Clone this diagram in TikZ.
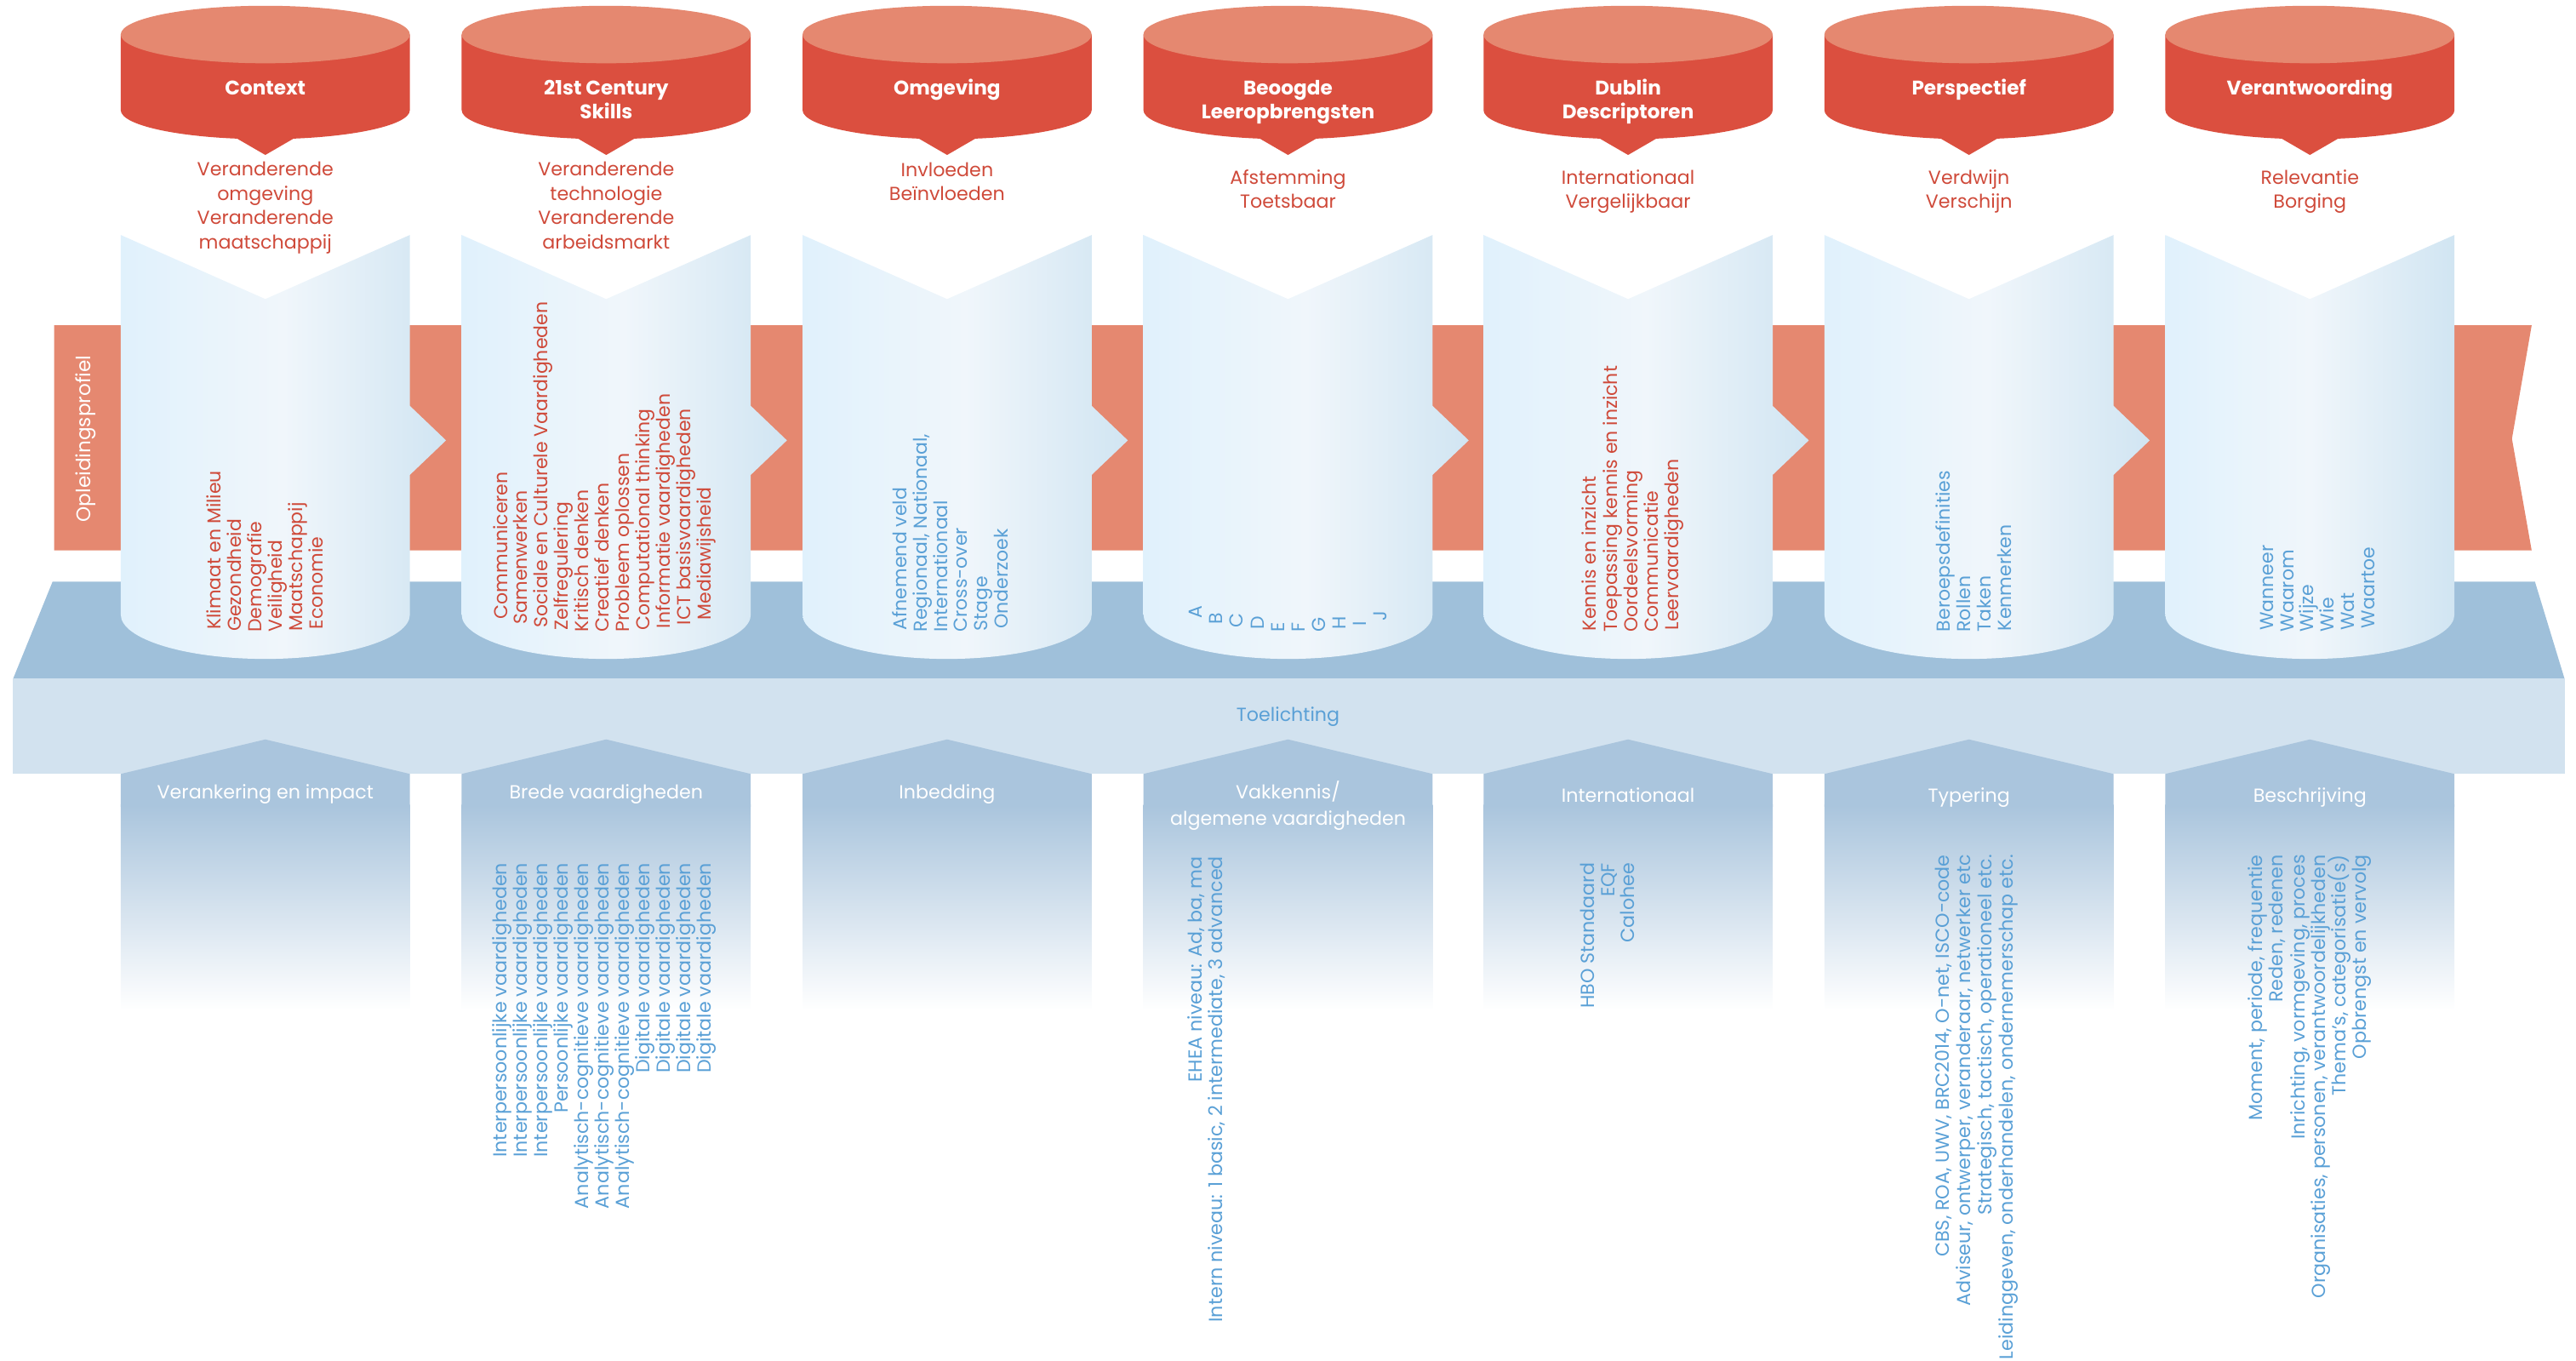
\documentclass[tikz,border=0pt]{standalone}
\usepackage{fontspec}
\setmainfont{Poppins}
\definecolor{kolomcolor0001}{RGB}{229,136,112}
\definecolor{kolomcolor0002}{RGB}{219,79,63}
\definecolor{kolomcolor0003}{RGB}{207,74,58}
\definecolor{kolomcolor0004}{RGB}{90,160,214}
\definecolor{kolomcolor0005}{RGB}{159,192,218}
\definecolor{kolomcolor0006}{RGB}{210,226,239}
\definecolor{kolomcolor0007}{RGB}{170,197,221}
\definecolor{kolomcolor0008}{RGB}{224,241,252}
\definecolor{kolomcolor0009}{RGB}{240,246,251}
\definecolor{kolomcolor0010}{RGB}{209,229,242}
\begin{document}
\begin{tikzpicture}[x=1pt,y=1pt,yscale=-1
            ,kstyle0/.style={fill=kolomcolor0001}
            ,kstyle1/.style={fill=kolomcolor0002}
            ,kstyle2/.style={left color=kolomcolor0008,right color=kolomcolor0010,middle color=kolomcolor0009}
            ,kstyle3/.style={fill=kolomcolor0005}
            ,kstyle4/.style={fill=kolomcolor0006}
            ,kstyle5/.style={fill=kolomcolor0007}
            ,kstyle6/.style={top color=kolomcolor0007,bottom color=white}
            ,tstyle0/.style={anchor=base,inner sep=0pt,color=white,font=\fontsize{12}{14}\selectfont\bfseries}
            ,tstyle1/.style={anchor=base,inner sep=0pt,color=kolomcolor0003,font=\fontsize{11.5}{14}\selectfont}
            ,tstyle2/.style={anchor=base,inner sep=0pt,color=white,font=\fontsize{11.5}{14}\selectfont}
            ,tstyle3/.style={rotate=90,anchor=mid west,inner sep=0pt,color=kolomcolor0003,font=\fontsize{11.4}{12}\selectfont}
            ,tstyle4/.style={rotate=90,anchor=mid west,inner sep=0pt,color=kolomcolor0004,font=\fontsize{11.4}{12}\selectfont}
            ,tstyle5/.style={rotate=90,anchor=mid east,inner sep=0pt,color=kolomcolor0004,font=\fontsize{11.5}{12}\selectfont}
        ]
        \useasboundingbox (0,0) rectangle (1568,828);
        \fill[kstyle0] (33,198) -- (1541,198) -- (1529,267) -- (1541,335) -- (33,335) -- cycle;
        \fill[kstyle3] (32,354) -- (1543,354) -- (1561,413) -- (8,413) -- cycle;
        \fill[kstyle4] (8,413) rectangle (1561,471);
        \fill[kstyle5] (73.5,471) -- (161.5,450) -- (249.5,471) -- (249.5,491) -- (73.5,491) -- cycle;
        \fill[kstyle5] (281,471) -- (369,450) -- (457,471) -- (457,491) -- (281,491) -- cycle;
        \fill[kstyle5] (488.5,471) -- (576.5,450) -- (664.5,471) -- (664.5,491) -- (488.5,491) -- cycle;
        \fill[kstyle5] (696,471) -- (784,450) -- (872,471) -- (872,491) -- (696,491) -- cycle;
        \fill[kstyle5] (903,471) -- (991,450) -- (1079,471) -- (1079,491) -- (903,491) -- cycle;
        \fill[kstyle5] (1110.5,471) -- (1198.5,450) -- (1286.5,471) -- (1286.5,491) -- (1110.5,491) -- cycle;
        \fill[kstyle5] (1318,471) -- (1406,450) -- (1494,471) -- (1494,491) -- (1318,491) -- cycle;
        \shade[kstyle6] (73.5,490) rectangle (249.5,615);
        \shade[kstyle6] (281,490) rectangle (457,615);
        \shade[kstyle6] (488.5,490) rectangle (664.5,615);
        \shade[kstyle6] (696,490) rectangle (872,615);
        \shade[kstyle6] (903,490) rectangle (1079,615);
        \shade[kstyle6] (1110.5,490) rectangle (1286.5,615);
        \shade[kstyle6] (1318,490) rectangle (1494,615);
        \shade[kstyle2] (73.5,143) -- (161.5,182) -- (249.5,143) -- (249.5,247) -- (271.5,268) -- (249.5,289) -- (249.5,374) arc[start angle=0,end angle=180,x radius=88,y radius=27] -- cycle;
        \shade[kstyle2] (281,143) -- (369,182) -- (457,143) -- (457,247) -- (479,268) -- (457,289) -- (457,374) arc[start angle=0,end angle=180,x radius=88,y radius=27] -- cycle;
        \shade[kstyle2] (488.5,143) -- (576.5,182) -- (664.5,143) -- (664.5,247) -- (686.5,268) -- (664.5,289) -- (664.5,374) arc[start angle=0,end angle=180,x radius=88,y radius=27] -- cycle;
        \shade[kstyle2] (696,143) -- (784,182) -- (872,143) -- (872,247) -- (894,268) -- (872,289) -- (872,374) arc[start angle=0,end angle=180,x radius=88,y radius=27] -- cycle;
        \shade[kstyle2] (903,143) -- (991,182) -- (1079,143) -- (1079,247) -- (1101,268) -- (1079,289) -- (1079,374) arc[start angle=0,end angle=180,x radius=88,y radius=27] -- cycle;
        \shade[kstyle2] (1110.5,143) -- (1198.5,182) -- (1286.5,143) -- (1286.5,247) -- (1308.5,268) -- (1286.5,289) -- (1286.5,374) arc[start angle=0,end angle=180,x radius=88,y radius=27] -- cycle;
        \shade[kstyle2] (1318,143) -- (1406,182) -- (1494,143) -- (1494,374) arc[start angle=0,end angle=180,x radius=88,y radius=27] -- cycle;
        \fill[kstyle1] (73.5,21) -- (73.5,67) arc[start angle=180,end angle=0,x radius=88,y radius=17.7] -- (249.5,21) -- cycle;
        \fill[kstyle1] (142,83) -- (161.5,94.3) -- (181,83) -- cycle;
        \fill[kstyle0] (161.5,21) ellipse[x radius=88,y radius=17.5];
        \fill[kstyle1] (281,21) -- (281,67) arc[start angle=180,end angle=0,x radius=88,y radius=17.7] -- (457,21) -- cycle;
        \fill[kstyle1] (349.5,83) -- (369,94.3) -- (388.5,83) -- cycle;
        \fill[kstyle0] (369,21) ellipse[x radius=88,y radius=17.5];
        \fill[kstyle1] (488.5,21) -- (488.5,67) arc[start angle=180,end angle=0,x radius=88,y radius=17.7] -- (664.5,21) -- cycle;
        \fill[kstyle1] (557,83) -- (576.5,94.3) -- (596,83) -- cycle;
        \fill[kstyle0] (576.5,21) ellipse[x radius=88,y radius=17.5];
        \fill[kstyle1] (696,21) -- (696,67) arc[start angle=180,end angle=0,x radius=88,y radius=17.7] -- (872,21) -- cycle;
        \fill[kstyle1] (764.5,83) -- (784,94.3) -- (803.5,83) -- cycle;
        \fill[kstyle0] (784,21) ellipse[x radius=88,y radius=17.5];
        \fill[kstyle1] (903,21) -- (903,67) arc[start angle=180,end angle=0,x radius=88,y radius=17.7] -- (1079,21) -- cycle;
        \fill[kstyle1] (971.5,83) -- (991,94.3) -- (1010.5,83) -- cycle;
        \fill[kstyle0] (991,21) ellipse[x radius=88,y radius=17.5];
        \fill[kstyle1] (1110.5,21) -- (1110.5,67) arc[start angle=180,end angle=0,x radius=88,y radius=17.7] -- (1286.5,21) -- cycle;
        \fill[kstyle1] (1179,83) -- (1198.5,94.3) -- (1218,83) -- cycle;
        \fill[kstyle0] (1198.5,21) ellipse[x radius=88,y radius=17.5];
        \fill[kstyle1] (1318,21) -- (1318,67) arc[start angle=180,end angle=0,x radius=88,y radius=17.7] -- (1494,21) -- cycle;
        \fill[kstyle1] (1386.5,83) -- (1406,94.3) -- (1425.5,83) -- cycle;
        \fill[kstyle0] (1406,21) ellipse[x radius=88,y radius=17.5];
        \node (hd1) at (161.5,57.5)[tstyle0]{Context};
        \node (hd2a) at (369,57.5)[tstyle0]{21st Century};
        \node (hd2b) at (369,72.5)[tstyle0]{Skills};
        \node (hd3) at (576.5,57.5)[tstyle0]{Omgeving};
        \node (hd4a) at (784,57.5)[tstyle0]{Beoogde};
        \node (hd4b) at (784,72.5)[tstyle0]{Leeropbrengsten};
        \node (hd5a) at (991,57.5)[tstyle0]{Dublin};
        \node (hd5b) at (991,72.5)[tstyle0]{Descriptoren};
        \node (hd6) at (1198.5,57.5)[tstyle0]{Perspectief};
        \node (hd7) at (1406,57.5)[tstyle0]{Verantwoording};
        \node (sb1a) at (161.5,107)[tstyle1]{Veranderende};
        \node (sb1b) at (161.5,122)[tstyle1]{omgeving};
        \node (sb1c) at (161.5,136.6)[tstyle1]{Veranderende};
        \node (sb1d) at (161.5,151.6)[tstyle1]{maatschappij};
        \node (sb2a) at (369,107)[tstyle1]{Veranderende};
        \node (sb2b) at (369,122)[tstyle1]{technologie};
        \node (sb2c) at (369,136.6)[tstyle1]{Veranderende};
        \node (sb2d) at (369,151.6)[tstyle1]{arbeidsmarkt};
        \node (sb3a) at (576.5,107.3)[tstyle1]{Invloeden};
        \node (sb3b) at (576.5,121.8)[tstyle1]{Beïnvloeden};
        \node (sb4a) at (784,112)[tstyle1]{Afstemming};
        \node (sb4b) at (784,126.6)[tstyle1]{Toetsbaar};
        \node (sb5a) at (991,112)[tstyle1]{Internationaal};
        \node (sb5b) at (991,126.6)[tstyle1]{Vergelijkbaar};
        \node (sb6a) at (1198.5,112)[tstyle1]{Verdwijn};
        \node (sb6b) at (1198.5,126.6)[tstyle1]{Verschijn};
        \node (sb7a) at (1406,112)[tstyle1]{Relevantie};
        \node (sb7b) at (1406,126.6)[tstyle1]{Borging};
        \node (opl) at (52,267)[rotate=90,inner sep=0pt,color=white,font=\fontsize{12}{14}\selectfont]{Opleidingsprofiel};
        \node (m1a) at (131.7,383.4)[tstyle3]{Klimaat en Milieu};
        \node (m1b) at (144.1,384.5)[tstyle3]{Gezondheid};
        \node (m1c) at (156.5,385)[tstyle3]{Demografie};
        \node (m1d) at (168.9,384.9)[tstyle3]{Veiligheid};
        \node (m1e) at (181.3,384.3)[tstyle3]{Maatschappij};
        \node (m1f) at (193.7,383.1)[tstyle3]{Economie};
        \node (m2a) at (306,376.9)[tstyle3]{Communiceren};
        \node (m2b) at (318.4,380.1)[tstyle3]{Samenwerken};
        \node (m2c) at (330.8,382.3)[tstyle3]{Sociale en Culturele Vaardigheden};
        \node (m2d) at (343.2,383.8)[tstyle3]{Zelfregulering};
        \node (m2e) at (355.6,384.7)[tstyle3]{Kritisch denken};
        \node (m2f) at (368,385)[tstyle3]{Creatief denken};
        \node (m2g) at (380.4,384.9)[tstyle3]{Probleem oplossen};
        \node (m2h) at (392.8,384)[tstyle3]{Computational thinking};
        \node (m2i) at (405.2,382.6)[tstyle3]{Informatie vaardigheden};
        \node (m2j) at (417.6,380.5)[tstyle3]{ICT basisvaardigheden};
        \node (m2k) at (430,377.5)[tstyle3]{Mediawijsheid};
        \node (m3a) at (549,383.6)[tstyle4]{Afnemend veld};
        \node (m3b) at (561.4,384.6)[tstyle4]{Regionaal, Nationaal,};
        \node (m3c) at (573.8,385)[tstyle4]{Internationaal};
        \node (m3d) at (586.2,384.8)[tstyle4]{Cross-over};
        \node (m3e) at (598.6,384.1)[tstyle4]{Stage};
        \node (m3f) at (611,382.8)[tstyle4]{Onderzoek};
        \node (m4a) at (729,376.4)[tstyle4]{A};
        \node (m4b) at (741.5,380)[tstyle4]{B};
        \node (m4c) at (754,382)[tstyle4]{C};
        \node (m4d) at (766.5,383.5)[tstyle4]{D};
        \node (m4e) at (779,385)[tstyle4]{E};
        \node (m4f) at (791.5,385)[tstyle4]{F};
        \node (m4g) at (804,385)[tstyle4]{G};
        \node (m4h) at (816.5,383.5)[tstyle4]{H};
        \node (m4i) at (829,381)[tstyle4]{I};
        \node (m4j) at (841.5,378)[tstyle4]{J};
        \node (m5a) at (969,384.1)[tstyle3]{Kennis en inzicht};
        \node (m5b) at (981.5,384.8)[tstyle3]{Toepassing kennis en inzicht};
        \node (m5c) at (994,385)[tstyle3]{Oordeelsvorming};
        \node (m5d) at (1006.5,384.6)[tstyle3]{Communicatie};
        \node (m5e) at (1019,383.6)[tstyle3]{Leervaardigheden};
        \node (m6a) at (1184,384.6)[tstyle4]{Beroepsdefinities};
        \node (m6b) at (1196.5,385)[tstyle4]{Rollen};
        \node (m6c) at (1209,384.8)[tstyle4]{Taken};
        \node (m6d) at (1221.5,384.1)[tstyle4]{Kenmerken};
        \node (m7a) at (1381,383.9)[tstyle4]{Wanneer};
        \node (m7b) at (1393.3,384.7)[tstyle4]{Waarom};
        \node (m7c) at (1405.6,385)[tstyle4]{Wijze};
        \node (m7d) at (1418,384.7)[tstyle4]{Wie};
        \node (m7e) at (1430.3,384)[tstyle4]{Wat};
        \node (m7f) at (1442.6,382.6)[tstyle4]{Waartoe};
        \node (toel) at (784,439)[anchor=base,inner sep=0pt,color=kolomcolor0004,font=\fontsize{11.5}{14}\selectfont]{Toelichting};
        \node (bt1) at (161.5,486)[tstyle2]{Verankering en impact};
        \node (bt2) at (369,486)[tstyle2]{Brede vaardigheden};
        \node (bt3) at (576.5,486)[tstyle2]{Inbedding};
        \node (bt4a) at (784,486)[tstyle2]{Vakkennis/};
        \node (bt4b) at (784,502)[tstyle2]{algemene vaardigheden};
        \node (bt5) at (991,488)[tstyle2]{Internationaal};
        \node (bt6) at (1198.5,488)[tstyle2]{Typering};
        \node (bt7) at (1406,488)[tstyle2]{Beschrijving};
        \node (b2a) at (305.6,525)[tstyle5]{Interpersoonlijke vaardigheden};
        \node (b2b) at (318,525)[tstyle5]{Interpersoonlijke vaardigheden};
        \node (b2c) at (330.5,525)[tstyle5]{Interpersoonlijke vaardigheden};
        \node (b2d) at (342.9,525)[tstyle5]{Persoonlijke vaardigheden};
        \node (b2e) at (355.4,525)[tstyle5]{Analytisch-cognitieve vaardigheden};
        \node (b2f) at (367.8,525)[tstyle5]{Analytisch-cognitieve vaardigheden};
        \node (b2g) at (380.2,525)[tstyle5]{Analytisch-cognitieve vaardigheden};
        \node (b2h) at (392.7,525)[tstyle5]{Digitale vaardigheden};
        \node (b2i) at (405.1,525)[tstyle5]{Digitale vaardigheden};
        \node (b2j) at (417.6,525)[tstyle5]{Digitale vaardigheden};
        \node (b2k) at (430,525)[tstyle5]{Digitale vaardigheden};
        \node (b4a) at (729,521)[tstyle5]{EHEA niveau: Ad, ba, ma};
        \node (b4b) at (741.6,521)[tstyle5]{Intern niveau: 1 basic, 2 intermediate, 3 advanced};
        \node (b5a) at (967.6,525)[tstyle5]{HBO Standaard};
        \node (b5b) at (980,525)[tstyle5]{EQF};
        \node (b5c) at (992,525)[tstyle5]{Calohee};
        \node (b6a) at (1183.5,520)[tstyle5]{CBS, ROA, UWV, BRC2014, O-net, ISCO-code};
        \node (b6b) at (1196.5,520)[tstyle5]{Adviseur, ontwerper, veranderaar, netwerker etc};
        \node (b6c) at (1209.5,520)[tstyle5]{Strategisch, tactisch, operationeel etc.};
        \node (b6d) at (1222.5,520)[tstyle5]{Leidinggeven, onderhandelen, ondernemerschap etc.};
        \node (b7a) at (1374.6,520)[tstyle5]{Moment, periode, frequentie};
        \node (b7b) at (1387,520)[tstyle5]{Reden, redenen};
        \node (b7c) at (1400,520)[tstyle5]{Inrichting, vormgeving, proces};
        \node (b7d) at (1412.6,520)[tstyle5]{Organisaties, personen, verantwoordelijkheden};
        \node (b7e) at (1425,520)[tstyle5]{Thema's, categorisatie(s)};
        \node (b7f) at (1437.8,520)[tstyle5]{Opbrengst en vervolg};
    \end{tikzpicture}
\end{document}
